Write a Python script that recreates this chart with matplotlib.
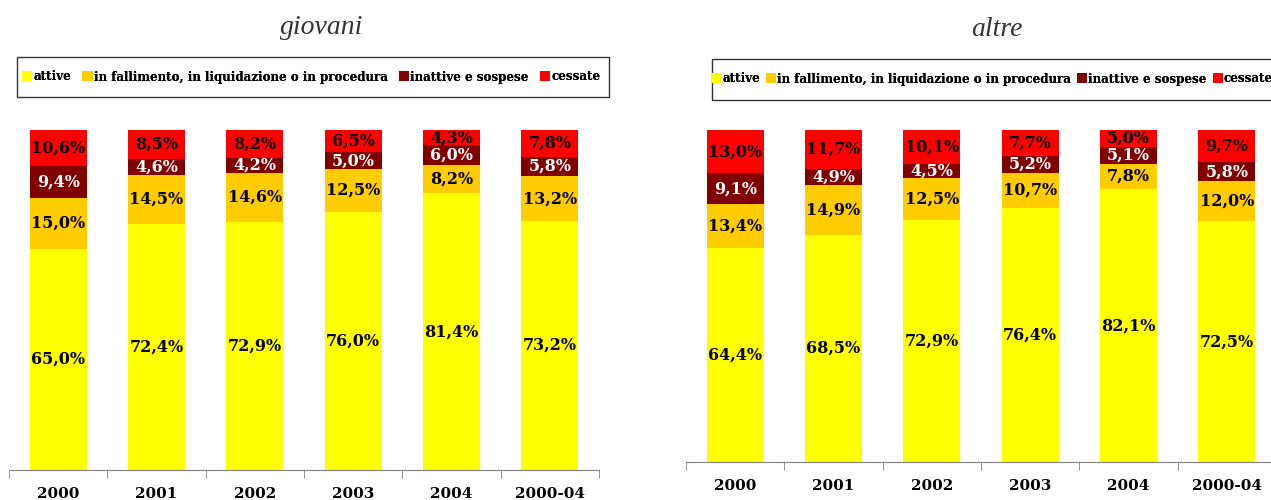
import matplotlib.pyplot as plt
import numpy as np
from matplotlib.patches import Patch

years = ['2000', '2001', '2002', '2003', '2004', '2000-04']
series_names = ['attive', 'in fallimento, in liquidazione o in procedura',
                'inattive e sospese', 'cessate']
colors = ['#FFFF00', '#FFCC00', '#800000', '#FF0000']
text_colors = ['black', 'black', 'white', 'black']

# giovani
giov_attive = [65.0, 72.4, 72.9, 76.0, 81.4, 73.2]
giov_fall = [15.0, 14.5, 14.6, 12.5, 8.2, 13.2]
giov_inatt = [9.4, 4.6, 4.2, 5.0, 6.0, 5.8]
giov_cess = [10.6, 8.5, 8.2, 6.5, 4.3, 7.8]

# altre
altre_attive = [64.4, 68.5, 72.9, 76.4, 82.1, 72.5]
altre_fall = [13.4, 14.9, 12.5, 10.7, 7.8, 12.0]
altre_inatt = [9.1, 4.9, 4.5, 5.2, 5.1, 5.8]
altre_cess = [13.0, 11.7, 10.1, 7.7, 5.0, 9.7]

W, H = 1271, 500
fig = plt.figure(figsize=(W / 100, H / 100), dpi=100)
serif = 'DejaVu Serif'


def fmt(v):
    return f'{v:.1f}%'.replace('.', ',')


def draw(ax, data):
    x = np.arange(len(years))
    bottom = np.zeros(len(years))
    for k, vals in enumerate(data):
        vals = np.array(vals)
        ax.bar(x, vals, 0.58, bottom=bottom, color=colors[k], edgecolor='none')
        for i, v in enumerate(vals):
            ax.text(x[i], bottom[i] + v / 2, fmt(v), ha='center', va='center',
                    family=serif, weight='bold', fontsize=11.5, color=text_colors[k])
        bottom += vals
    ax.set_xlim(-0.5, len(years) - 0.5)
    ax.set_ylim(0, 100)
    ax.set_yticks([])
    for s in ['top', 'right', 'left']:
        ax.spines[s].set_visible(False)
    ax.spines['bottom'].set_color('#808080')
    ax.set_xticks(x)
    ax.set_xticklabels(years, family=serif, weight='bold', fontsize=11)
    ax.tick_params(axis='x', which='major', length=0, pad=12)
    ax.set_xticks(np.arange(len(years) + 1) - 0.5, minor=True)
    ax.tick_params(axis='x', which='minor', length=6, color='#808080')


ax1 = fig.add_axes([9 / W, 30 / H, 590 / W, 340 / H])
draw(ax1, [giov_attive, giov_fall, giov_inatt, giov_cess])

ax2 = fig.add_axes([686 / W, 38 / H, 590 / W, 332 / H])
draw(ax2, [altre_attive, altre_fall, altre_inatt, altre_cess])

fig.text(322 / W, 1 - 27 / H, 'giovani', ha='center', va='center',
         family='Liberation Serif', style='italic', fontsize=20, color='#333333')
fig.text(997 / W, 1 - 30 / H, 'altre', ha='center', va='center',
         family='Liberation Serif', style='italic', fontsize=20, color='#333333')

handles = [Patch(facecolor=c, edgecolor='none') for c in colors]
legends = [(77, (17, 57, 592, 40), 22, 0.95, 8.6),
           (79, (712, 59, 600, 41), 711, 0.5, 8.55)]
for cy, box, x0, csp, fs in legends:
    leg = fig.legend(handles, series_names, loc='center left',
                     bbox_to_anchor=(x0 / W, 1 - cy / H),
                     ncol=4, frameon=False, handlelength=0.85, handleheight=0.9,
                     handletextpad=0.1, columnspacing=csp,
                     borderpad=0, borderaxespad=0,
                     prop={'family': serif, 'weight': 'bold', 'size': fs})
    fig.add_artist(leg)
    rect = plt.Rectangle((box[0] / W, 1 - (box[1] + box[3]) / H), box[2] / W, box[3] / H,
                         transform=fig.transFigure, fill=False, edgecolor='#333333', lw=1)
    fig.add_artist(rect)

fig.savefig('out.png', dpi=100)
